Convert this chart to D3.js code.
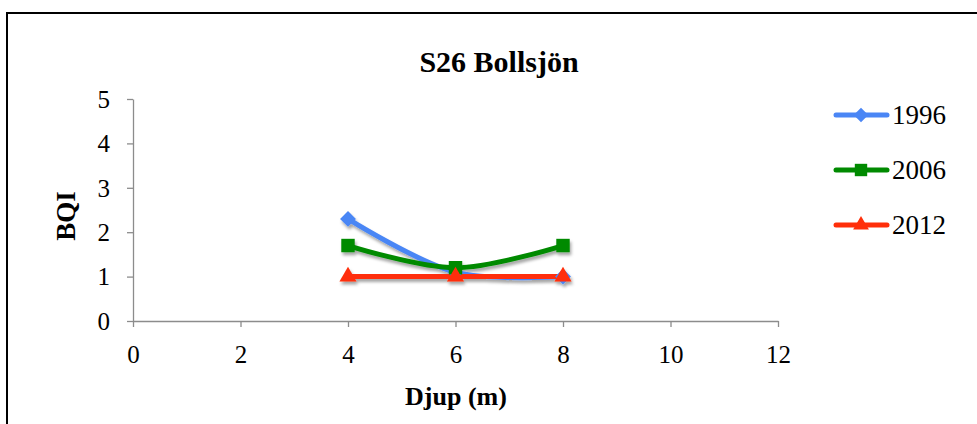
<!DOCTYPE html>
<html>
<head>
<meta charset="utf-8">
<script src="https://cdn.jsdelivr.net/npm/d3@7"></script>
<style>
  html, body { margin: 0; padding: 0; background: #fff; }
  svg { display: block; }
  text { font-family: "Liberation Serif", "Times New Roman", serif; fill: #000; }
</style>
</head>
<body>
<svg id="chart" width="977" height="424"></svg>
<script>
// Depth (m) of each sampling station
const depths = [4, 6, 8];
// BQI per survey year
const bqi1996 = [2.3, 1.1, 1.0];
const bqi2006 = [1.7, 1.2, 1.7];
const bqi2012 = [1.0, 1.0, 1.0];
const seriesNames = ["1996", "2006", "2012"];
const xTicks = [0, 2, 4, 6, 8, 10, 12];
const yTicks = [0, 1, 2, 3, 4, 5];

const colors = { "1996": "#4A86F5", "2006": "#008A00", "2012": "#FF2F0A" };
const symbols = { "1996": d3.symbolDiamond2, "2006": d3.symbolSquare2, "2012": d3.symbolTriangle2 };
const symbolSizes = { "1996": 160, "2006": 230, "2012": 210 };

const series = [
  { name: "1996", values: bqi1996 },
  { name: "2006", values: bqi2006 },
  { name: "2012", values: bqi2012 }
];

const svg = d3.select("#chart");

// outer frame
svg.append("rect")
  .attr("x", 7).attr("y", 13).attr("width", 1000).attr("height", 440)
  .attr("fill", "none").attr("stroke", "#000").attr("stroke-width", 2);

// soft drop shadow for marks
const defs = svg.append("defs");
const f = defs.append("filter").attr("id", "shadow")
  .attr("x", "-50%").attr("y", "-50%").attr("width", "200%").attr("height", "200%");
f.append("feDropShadow").attr("dx", 1.5).attr("dy", 3).attr("stdDeviation", 1.6)
  .attr("flood-color", "#000").attr("flood-opacity", 0.35);

const x = d3.scaleLinear().domain([0, 12]).range([133, 778]);
const y = d3.scaleLinear().domain([0, 5]).range([321, 99]);

// axes
const xAxis = svg.append("g").attr("transform", `translate(0,${y(0)})`)
  .call(d3.axisBottom(x).tickValues(xTicks).tickFormat(d3.format("d"))
    .tickSize(6).tickSizeOuter(0).tickPadding(18));
const yAxis = svg.append("g").attr("transform", `translate(${x(0)},0)`)
  .call(d3.axisLeft(y).tickValues(yTicks).tickFormat(d3.format("d"))
    .tickSize(6).tickSizeOuter(0).tickPadding(17));

[xAxis, yAxis].forEach(g => {
  g.select(".domain").attr("stroke", "#8c8c8c").attr("stroke-width", 1.3);
  g.selectAll(".tick line").attr("stroke", "#8c8c8c").attr("stroke-width", 1.3);
  g.selectAll(".tick text")
    .style("font-family", "'Liberation Serif', 'Times New Roman', serif")
    .style("font-size", "25px").attr("fill", "#000");
});
xAxis.selectAll(".tick text").attr("dy", "0.71em");
yAxis.selectAll(".tick text").attr("dy", "0.33em");

// titles
svg.append("text").attr("x", 499).attr("y", 72).attr("text-anchor", "middle")
  .style("font-size", "30px").style("font-weight", "bold").text("S26 Bollsjön");
svg.append("text").attr("x", 456).attr("y", 405).attr("text-anchor", "middle")
  .style("font-size", "26px").style("font-weight", "bold").text("Djup (m)");
svg.append("text").attr("transform", "translate(75,216) rotate(-90)").attr("text-anchor", "middle")
  .style("font-size", "27px").style("font-weight", "bold").text("BQI");

// smooth lines
const line = d3.line()
  .x(d => x(d[0])).y(d => y(d[1]))
  .curve(d3.curveCatmullRom.alpha(0.5));

const plot = svg.append("g").attr("filter", "url(#shadow)");

series.forEach(s => {
  const pts = depths.map((d, i) => [d, s.values[i]]);
  plot.append("path").datum(pts)
    .attr("d", line).attr("fill", "none")
    .attr("stroke", colors[s.name]).attr("stroke-width", 5)
    .attr("stroke-linecap", "round").attr("stroke-linejoin", "round");
});
series.forEach(s => {
  const pts = depths.map((d, i) => [d, s.values[i]]);
  plot.selectAll(null).data(pts).enter().append("path")
    .attr("transform", d => `translate(${x(d[0])},${y(d[1])})`)
    .attr("d", d3.symbol().type(symbols[s.name]).size(symbolSizes[s.name]))
    .attr("fill", colors[s.name]);
});

// legend
const legend = svg.append("g");
seriesNames.forEach((name, i) => {
  const ly = 115 + i * 55;
  legend.append("line").attr("x1", 836).attr("x2", 887).attr("y1", ly).attr("y2", ly)
    .attr("stroke", colors[name]).attr("stroke-width", 5).attr("stroke-linecap", "round");
  legend.append("path").attr("transform", `translate(861,${ly})`)
    .attr("d", d3.symbol().type(symbols[name]).size(symbolSizes[name] * 0.85))
    .attr("fill", colors[name]);
  legend.append("text").attr("x", 892).attr("y", ly).attr("dy", "0.35em")
    .style("font-size", "27px").text(name);
});
</script>
</body>
</html>
